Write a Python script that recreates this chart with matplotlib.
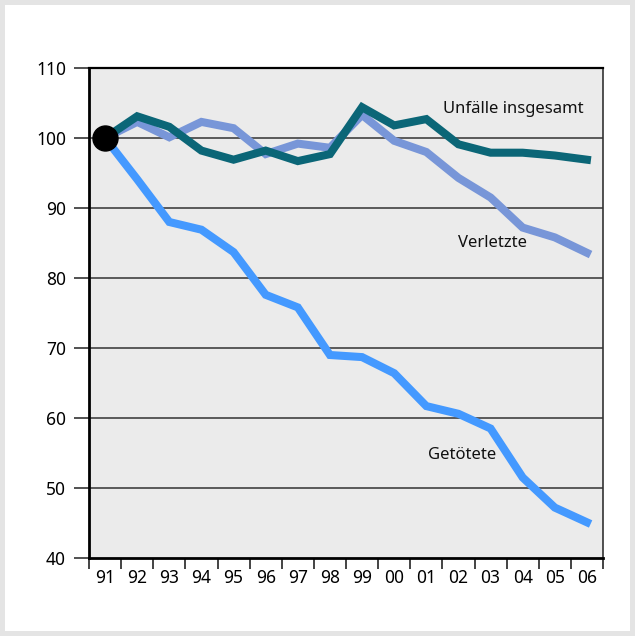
import matplotlib
matplotlib.use("Agg")
import matplotlib.pyplot as plt
from matplotlib.ticker import FixedLocator, NullFormatter

plt.rcParams['font.family'] = ['Noto Sans', 'DejaVu Sans']

years = ["91", "92", "93", "94", "95", "96", "97", "98",
         "99", "00", "01", "02", "03", "04", "05", "06"]
unfaelle = [100.0, 103.1, 101.6, 98.2, 96.9, 98.2, 96.7, 97.7,
            104.4, 101.8, 102.7, 99.1, 97.9, 97.9, 97.5, 96.9]
verletzte = [100.0, 102.3, 100.1, 102.3, 101.4, 97.7, 99.2, 98.6,
             103.3, 99.6, 98.0, 94.3, 91.5, 87.2, 85.8, 83.6]
getoetete = [100.0, 94.1, 88.0, 86.9, 83.7, 77.6, 75.8, 69.0,
             68.7, 66.4, 61.7, 60.6, 58.5, 51.5, 47.2, 45.1]
yticks = [40, 50, 60, 70, 80, 90, 100, 110]

W, H = 635, 636
fig = plt.figure(figsize=(W / 100, H / 100), dpi=100, facecolor="#e4e4e4")
bg = fig.add_axes([5 / W, 5 / H, 1 - 10 / W, 1 - 10 / H])
bg.set_facecolor("white")
bg.set_xticks([]); bg.set_yticks([])
for s in bg.spines.values():
    s.set_visible(False)
bg.set_zorder(0)

ax = fig.add_axes([89 / W, 78 / H, 514 / W, 490 / H])
ax.set_zorder(1)
ax.set_facecolor("#ebebeb")
x = list(range(len(years)))

for v in yticks[1:-1]:
    ax.axhline(v, color="#333333", lw=1.1, zorder=1)

lw = 5.8
ax.plot(x, verletzte, color="#7896d8", lw=lw, solid_joinstyle="miter", zorder=2)
ax.plot(x, unfaelle, color="#0b6677", lw=lw, solid_joinstyle="miter", zorder=3)
ax.plot(x, getoetete, color="#4499ff", lw=lw, solid_joinstyle="miter", zorder=4)
ax.plot([x[0]], [getoetete[0]], "o", color="black", ms=18, zorder=5, clip_on=False)

ax.text(12.7, 104.2, "Unfälle insgesamt", ha="center", va="center", fontsize=12, color="#111111")
ax.text(12.05, 85.0, "Verletzte", ha="center", va="center", fontsize=12, color="#111111")
ax.text(11.1, 54.7, "Getötete", ha="center", va="center", fontsize=12, color="#111111")

ax.set_xlim(-0.5, len(years) - 0.5)
ax.set_ylim(40, 110)
ax.set_yticks(yticks)
ax.set_yticklabels([str(v) for v in yticks], fontsize=12.5)
ax.tick_params(axis="y", length=11, width=1.1, pad=5.5, color="#222222")

ax.set_xticks(x)
ax.set_xticklabels(years, fontsize=12.5)
ax.tick_params(axis="x", which="major", length=0, pad=8)
ax.xaxis.set_minor_locator(FixedLocator([i - 0.5 for i in range(len(years) + 1)]))
ax.xaxis.set_minor_formatter(NullFormatter())
ax.tick_params(axis="x", which="minor", length=8, width=1.1, color="#111111")

for s in ["left", "bottom"]:
    ax.spines[s].set_linewidth(2.0)
    ax.spines[s].set_color("black")
ax.spines["top"].set_linewidth(1.6)
ax.spines["top"].set_color("black")
ax.spines["right"].set_linewidth(1.2)
ax.spines["right"].set_color("#333333")

fig.savefig("out.png", dpi=100, facecolor=fig.get_facecolor())
